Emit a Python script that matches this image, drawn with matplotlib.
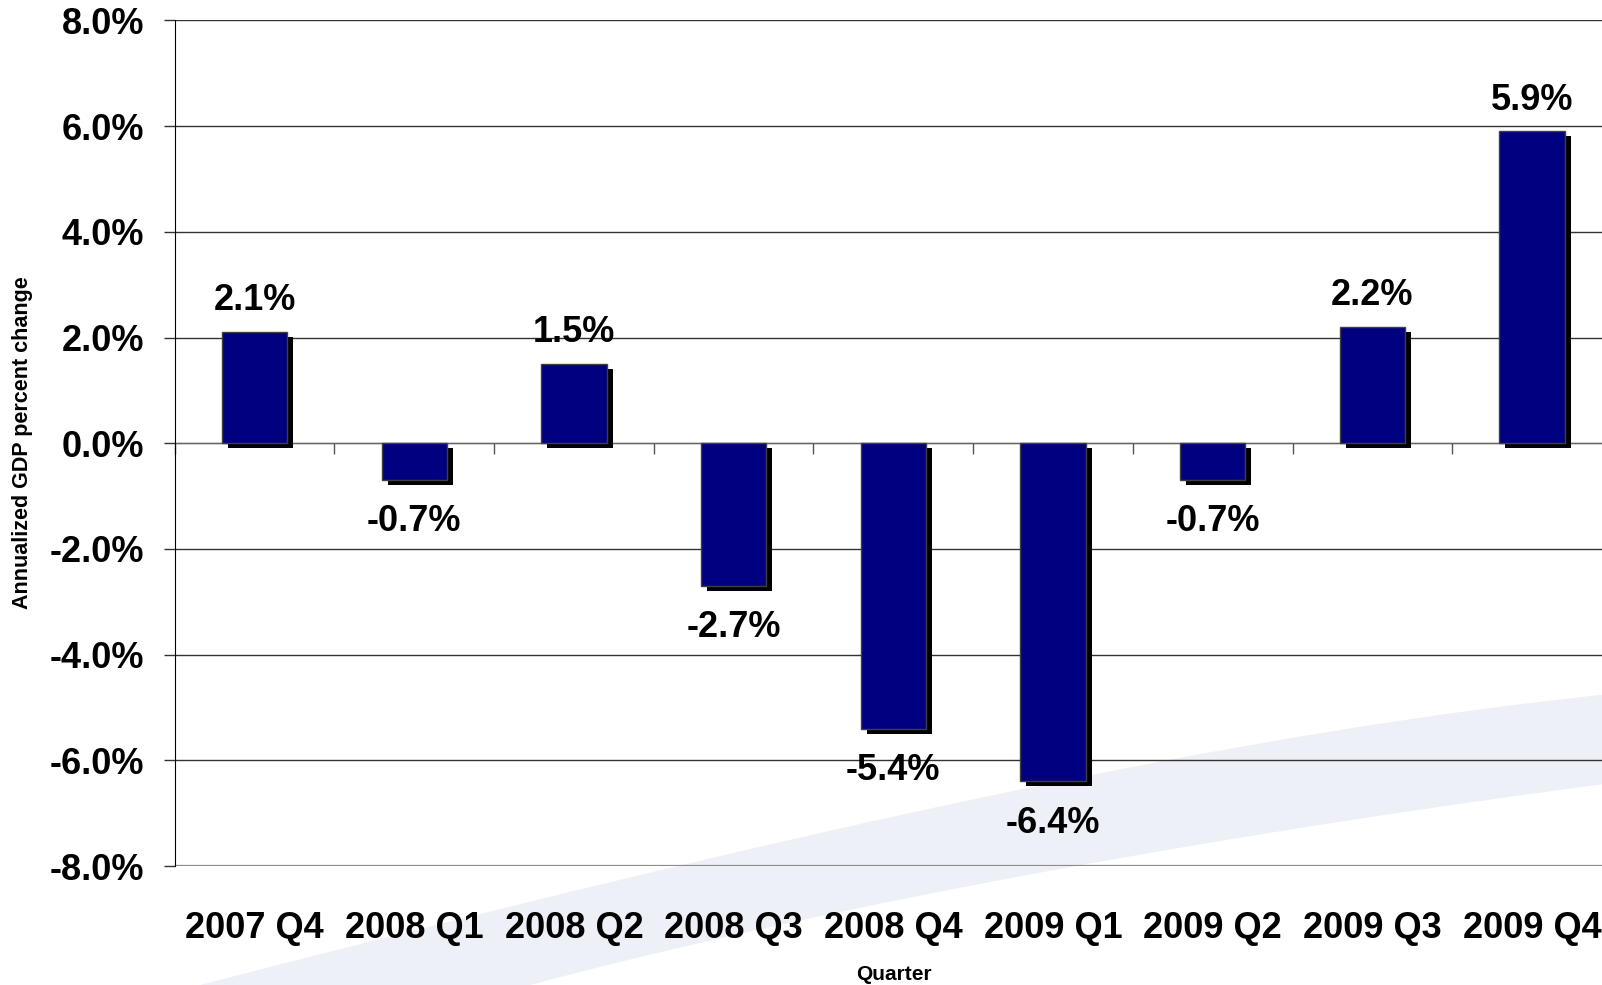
import numpy as np
import matplotlib
matplotlib.use('Agg')
import matplotlib.pyplot as plt
import matplotlib.transforms as mtransforms
from matplotlib.patches import PathPatch
from matplotlib.path import Path

plt.rcParams['font.family'] = ['Liberation Sans', 'DejaVu Sans']
plt.rcParams['font.weight'] = 'bold'

# data
quarters = ['2007 Q4', '2008 Q1', '2008 Q2', '2008 Q3', '2008 Q4',
            '2009 Q1', '2009 Q2', '2009 Q3', '2009 Q4']
gdp_change = [2.1, -0.7, 1.5, -2.7, -5.4, -6.4, -0.7, 2.2, 5.9]
y_ticks = [-8, -6, -4, -2, 0, 2, 4, 6, 8]

W, H = 1602, 985
fig = plt.figure(figsize=(W / 100, H / 100), dpi=100)
fig.patch.set_facecolor('white')

# pale decorative swoosh behind the chart (template pixel coords, bezier edges)
def px(x, y):
    return (x / W, 1 - y / H)

verts = [px(200, 985), px(820, 825), px(1250, 730), px(1620, 693),
         px(1620, 782),
         px(1250, 830), px(850, 900), px(530, 985),
         px(200, 985)]
codes = [Path.MOVETO, Path.CURVE4, Path.CURVE4, Path.CURVE4,
         Path.LINETO,
         Path.CURVE4, Path.CURVE4, Path.CURVE4,
         Path.CLOSEPOLY]
fig.patches.append(PathPatch(Path(verts, codes), transform=fig.transFigure,
                             facecolor='#edf0f7', edgecolor='none', zorder=-1))

ax = fig.add_axes([174.7 / W, 1 - 866 / H, (1612 - 174.7) / W, (866 - 20.4) / H])
ax.set_facecolor('none')

x = np.arange(len(quarters))
# black drop shadow shifted a few pixels right/down
shift = ax.transData + mtransforms.ScaledTranslation(6 / 100, -5 / 100, fig.dpi_scale_trans)
ax.bar(x, gdp_change, width=0.41, color='black', linewidth=0, zorder=2.9, transform=shift)
ax.bar(x, gdp_change, width=0.41, color='#000080', edgecolor='#404040',
       linewidth=1, zorder=3)

for xi, v in zip(x, gdp_change):
    off = 22.5 if v > 0 else -30
    ax.annotate(f'{v:.1f}%', (xi, v), xytext=(0, off), textcoords='offset points',
                ha='center', va='center', fontsize=26, fontweight='bold', zorder=4)

ax.set_xlim(-0.5, len(quarters) - 0.5)
ax.set_ylim(-8, 8)

# y axis
ax.set_yticks(y_ticks)
ax.set_yticklabels([f'{v:.1f}%' for v in y_ticks])
ax.tick_params(axis='y', length=8, width=1, direction='out', pad=14,
               labelsize=26, color='#333333')
ax.yaxis.grid(True, color='#333333', linewidth=1)
ax.set_axisbelow(True)
ax.axhline(-8, color='#8c8c8c', linewidth=1.6, zorder=2)

# category axis runs along zero, ticks between the bars
ax.spines['top'].set_visible(False)
ax.spines['right'].set_visible(False)
ax.spines['left'].set_color('black')
ax.spines['bottom'].set_position(('data', 0))
ax.spines['bottom'].set_color('#666666')
ax.spines['bottom'].set_zorder(2)
ax.set_xticks(np.arange(-0.5, len(quarters), 1))
ax.set_xticklabels([])
ax.tick_params(axis='x', length=8, width=1, direction='out', color='#555555')

lab_tr = mtransforms.blended_transform_factory(ax.transData, fig.transFigure)
for xi, q in zip(x, quarters):
    ax.text(xi, 1 - 929 / H, q, transform=lab_tr, ha='center', va='center',
            fontsize=26, fontweight='bold')

fig.text(22.5 / W, 1 - 443 / H, 'Annualized GDP percent change', rotation=90,
         ha='center', va='center', fontsize=15.5, fontweight='bold')
fig.text(894 / W, 1 - 974 / H, 'Quarter', ha='center', va='center',
         fontsize=15, fontweight='bold')

fig.savefig('out.png', dpi=100, facecolor='white')
